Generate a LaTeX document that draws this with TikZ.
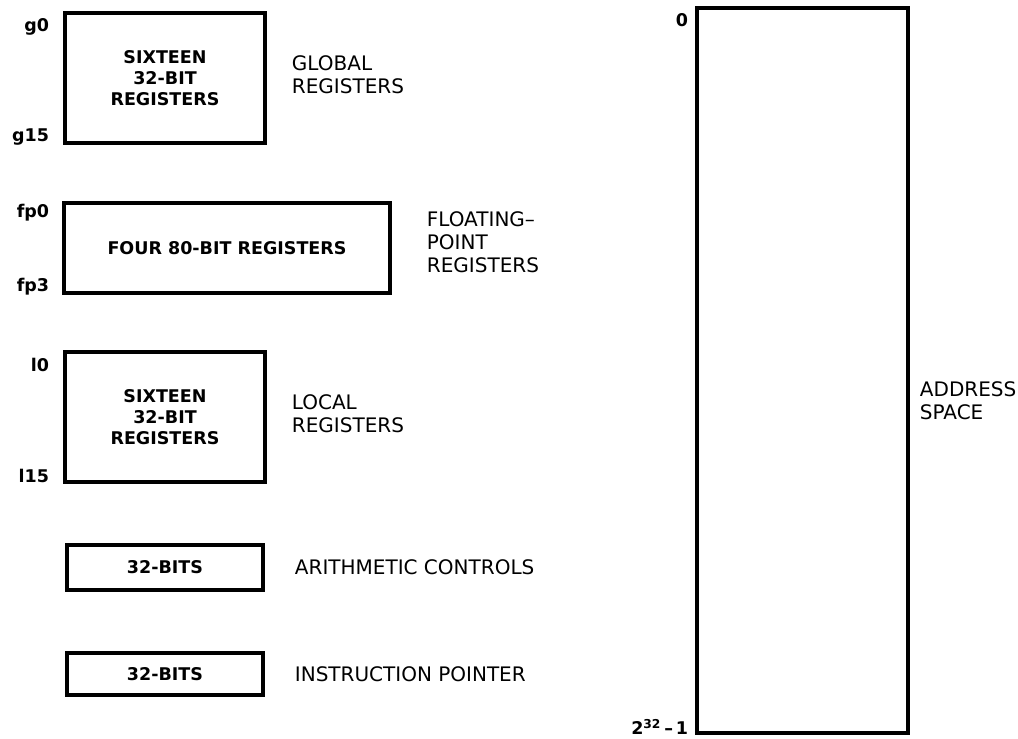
\documentclass[tikz,border=0pt]{standalone}
\usepackage{fontspec}
\setmainfont{DejaVu Sans}

\begin{document}
\begin{tikzpicture}[x=0.6pt,y=-0.6pt,line width=2.3pt,
  regbox/.style={draw,line width=2.3pt,inner sep=0pt,align=center,
    font=\bfseries\fontsize{10.5}{12.6}\selectfont},
  regidx/.style={anchor=east,inner sep=0pt,font=\bfseries\fontsize{10.5}{11}\selectfont},
  regname/.style={anchor=west,align=left,inner sep=0pt,
    font=\fontsize{12}{13.8}\selectfont}]
\useasboundingbox (0,0) rectangle (1018,738);
% ---- register file (left column) ----
% global registers
\node[regbox,minimum width=120pt,minimum height=78pt] (glob) at (165,78)
  {SIXTEEN\\32-BIT\\REGISTERS};
\node[regidx] (g0) at (51,27) {g0};
\node[regidx] (g15) at (51,137) {g15};
\node[regname] (globname) at (290,75) {GLOBAL\\REGISTERS};
% floating-point registers
\node[regbox,minimum width=195.6pt,minimum height=54pt] (fp) at (227,248)
  {FOUR 80-BIT REGISTERS};
\node[regidx] (fp0) at (51,213) {fp0};
\node[regidx] (fp3) at (51,287) {fp3};
\node[regname] (fpname) at (425,242) {FLOATING--\\POINT\\REGISTERS};
% local registers
\node[regbox,minimum width=120pt,minimum height=78pt] (loc) at (165,417)
  {SIXTEEN\\32-BIT\\REGISTERS};
\node[regidx] (l0) at (51,365) {l0};
\node[regidx] (l15) at (51,476) {l15};
\node[regname] (locname) at (290,414) {LOCAL\\REGISTERS};
% arithmetic controls
\node[regbox,minimum width=118pt,minimum height=27pt] (ac) at (165,567.5) {32-BITS};
\node[regname] (acname) at (293,567) {ARITHMETIC CONTROLS};
% instruction pointer
\node[regbox,minimum width=118pt,minimum height=25pt] (ip) at (165,674) {32-BITS};
\node[regname] (ipname) at (293,674) {INSTRUCTION POINTER};
% ---- address space (right column) ----
\node[regbox,minimum width=126.6pt,minimum height=435pt] (mem) at (802.5,370.5) {};
\node[regidx] (low) at (690,20) {0};
\node[regidx] (high) at (690,727) {2\textsuperscript{32}\,--\,1};
\node[regname] (memname) at (918,401) {ADDRESS\\SPACE};
\end{tikzpicture}
\end{document}
